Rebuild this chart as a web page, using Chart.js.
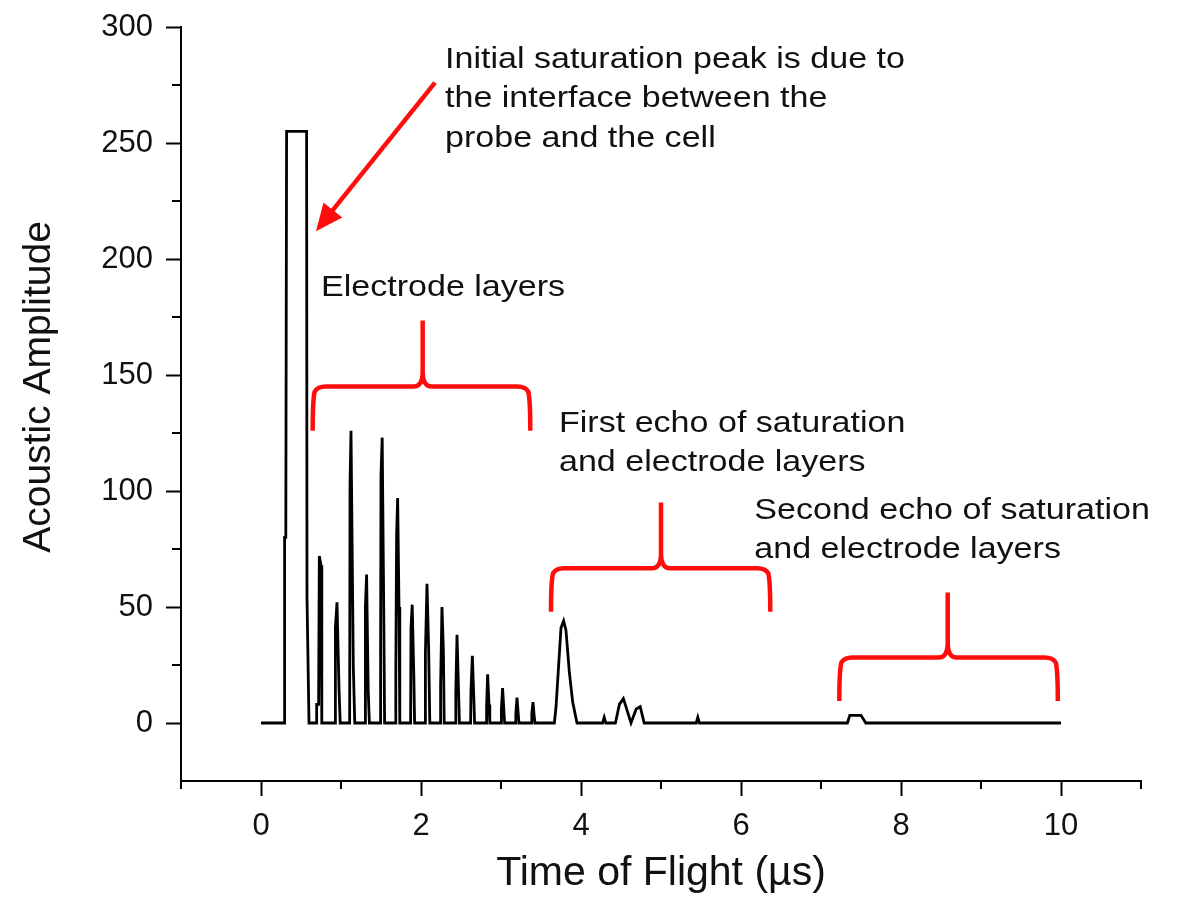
<!DOCTYPE html>
<html>
<head>
<meta charset="utf-8">
<title>Time of Flight</title>
<script src="https://cdn.jsdelivr.net/npm/chart.js@4.4.0/dist/chart.umd.min.js"></script>
<style>
  body { margin: 0; background: #fff; }
</style>
</head>
<body>
<canvas id="tof-chart" width="1177" height="898"></canvas>
<script>
// acoustic signal (time in µs, amplitude)
const tof = [
  0, 0.29, 0.295, 0.31, 0.32, 0.57, 0.575, 0.60,
  0.69, 0.696, 0.72, 0.729, 0.75, 0.76,
  0.925, 0.93, 0.95, 0.975, 0.99,
  1.108, 1.113, 1.125, 1.154, 1.172,
  1.30, 1.305, 1.32, 1.34, 1.355,
  1.49, 1.495, 1.50, 1.515, 1.535, 1.545,
  1.68, 1.685, 1.695, 1.708, 1.725, 1.735,
  1.87, 1.875, 1.89, 1.91, 1.92,
  2.05, 2.055, 2.075, 2.095, 2.11,
  2.24, 2.245, 2.262, 2.28, 2.29,
  2.43, 2.435, 2.45, 2.47, 2.48,
  2.62, 2.625, 2.642, 2.66, 2.67,
  2.815, 2.82, 2.833, 2.85, 2.86,
  3.0, 3.005, 3.02, 3.035, 3.045,
  3.18, 3.185, 3.2, 3.215, 3.225,
  3.38, 3.385, 3.40, 3.415, 3.425,
  3.667, 3.688, 3.717, 3.75, 3.783, 3.812, 3.854, 3.896, 3.95,
  4.27, 4.29, 4.31,
  4.43, 4.48, 4.53, 4.58, 4.625, 4.69, 4.74, 4.79,
  5.44, 5.46, 5.48,
  7.33, 7.36, 7.50, 7.56,
  10
];
const amplitude = [
  0, 0, 80, 80, 255, 255, 54, 0,
  0, 8, 8, 72, 68, 0,
  0, 41, 52, 15, 0,
  0, 103, 126, 24, 0,
  0, 50, 64, 14, 0,
  0, 31, 107, 123, 46, 0,
  0, 20, 81, 97, 50, 0,
  0, 41, 51, 21, 0,
  0, 30, 60, 33, 0,
  0, 16, 50, 31, 0,
  0, 13, 38, 13, 0,
  0, 14, 29, 11, 0,
  0, 7, 21, 8, 0,
  0, 6, 15, 6, 0,
  0, 4, 11, 4, 0,
  0, 4, 9, 3, 0,
  0, 7, 23, 41, 44, 40, 22, 9, 0,
  0, 2.4, 0,
  0, 8, 10.5, 5, 0, 6, 7, 0,
  0, 2.4, 0,
  0, 3.3, 3.3, 0,
  0
];

const xTickValues = [0, 2, 4, 6, 8, 10];
const xMinorTicks = [-1, 1, 3, 5, 7, 9, 11];
const yTickValues = [0, 50, 100, 150, 200, 250, 300];
const yMinorTicks = [25, 75, 125, 175, 225, 275];

const yTitle = 'Acoustic Amplitude';
const xTitle = 'Time of Flight (µs)';

// red annotations, in data units
const arrowFrom = [2.175, 276];
const arrowTo = [0.6875, 212];
const braces = [
  { x0: 0.646, xm: 2.021, x1: 3.366, yEnd: 126, yBar: 145, yTip: 173.5 },
  { x0: 3.625, xm: 5.0, x1: 6.366, yEnd: 48, yBar: 66.7, yTip: 95 },
  { x0: 7.229, xm: 8.584, x1: 9.96, yEnd: 9.5, yBar: 28.2, yTip: 56.2 }
];
const notes = [
  { x: 2.3, y: 282.5, lines: ["Initial saturation peak is due to", "the interface between the", "probe and the cell"] },
  { x: 0.75, y: 184, lines: ["Electrode layers"] },
  { x: 3.725, y: 125.6, lines: ["First echo of saturation", "and electrode layers"] },
  { x: 6.166, y: 88, lines: ["Second echo of saturation", "and electrode layers"] }
];

const fontFamily = "'Liberation Sans', Arial, sans-serif";
const red = '#ff0d0d';

const annotations = {
  id: 'annotations',
  afterDraw(chart) {
    const ctx = chart.ctx;
    const xs = chart.scales.x;
    const ys = chart.scales.y;

    // minor ticks
    ctx.save();
    ctx.strokeStyle = '#000';
    ctx.lineWidth = 2;
    ctx.beginPath();
    xMinorTicks.forEach(v => {
      const px = xs.getPixelForValue(v);
      ctx.moveTo(px, xs.top);
      ctx.lineTo(px, xs.top + 8);
    });
    yMinorTicks.forEach(v => {
      const py = ys.getPixelForValue(v);
      ctx.moveTo(ys.right - 9, py);
      ctx.lineTo(ys.right, py);
    });
    ctx.stroke();
    ctx.restore();

    // y axis title, sitting a little above the middle as in the original
    ctx.save();
    ctx.fillStyle = '#111';
    ctx.font = '39px ' + fontFamily;
    ctx.textAlign = 'center';
    ctx.textBaseline = 'middle';
    ctx.translate(39, 387);
    ctx.rotate(-Math.PI / 2);
    ctx.fillText(yTitle, 0, 0);
    ctx.restore();

    // braces
    ctx.save();
    ctx.strokeStyle = red;
    ctx.lineWidth = 4.5;
    ctx.lineJoin = 'round';
    braces.forEach(b => {
      const x0 = xs.getPixelForValue(b.x0);
      const xm = xs.getPixelForValue(b.xm);
      const x1 = xs.getPixelForValue(b.x1);
      const yEnd = ys.getPixelForValue(b.yEnd);
      const yBar = ys.getPixelForValue(b.yBar);
      const yTip = ys.getPixelForValue(b.yTip);
      const r = 13, r2 = 9;
      ctx.beginPath();
      ctx.moveTo(x0, yEnd);
      ctx.quadraticCurveTo(x0, yBar + r, x0 + 2, yBar + 5);
      ctx.quadraticCurveTo(x0 + 5, yBar, x0 + r, yBar);
      ctx.lineTo(xm - r2, yBar);
      ctx.quadraticCurveTo(xm, yBar, xm, yBar - r2 - 6);
      ctx.lineTo(xm, yTip);
      ctx.moveTo(xm, yBar - r2 - 6);
      ctx.quadraticCurveTo(xm, yBar, xm + r2, yBar);
      ctx.lineTo(x1 - r, yBar);
      ctx.quadraticCurveTo(x1 - 5, yBar, x1 - 2, yBar + 5);
      ctx.quadraticCurveTo(x1, yBar + r, x1, yEnd);
      ctx.stroke();
    });

    // arrow
    const ax = xs.getPixelForValue(arrowFrom[0]);
    const ay = ys.getPixelForValue(arrowFrom[1]);
    const tx = xs.getPixelForValue(arrowTo[0]);
    const ty = ys.getPixelForValue(arrowTo[1]);
    const len = Math.hypot(tx - ax, ty - ay);
    const ux = (tx - ax) / len, uy = (ty - ay) / len;
    const headLen = 27, headHalf = 12;
    const bx = tx - ux * headLen, by = ty - uy * headLen;
    ctx.beginPath();
    ctx.moveTo(ax, ay);
    ctx.lineTo(bx + ux * 4, by + uy * 4);
    ctx.stroke();
    ctx.fillStyle = red;
    ctx.beginPath();
    ctx.moveTo(tx, ty);
    ctx.lineTo(bx - uy * headHalf, by + ux * headHalf);
    ctx.lineTo(bx + uy * headHalf, by - ux * headHalf);
    ctx.closePath();
    ctx.fill();
    ctx.restore();

    // notes
    ctx.save();
    ctx.fillStyle = '#111';
    ctx.font = '30px ' + fontFamily;
    ctx.textBaseline = 'alphabetic';
    notes.forEach(n => {
      const px = xs.getPixelForValue(n.x);
      const py = ys.getPixelForValue(n.y);
      n.lines.forEach((line, i) => {
        ctx.save();
        ctx.translate(px, py + i * 39.5);
        ctx.scale(1.135, 1);
        ctx.fillText(line, 0, 0);
        ctx.restore();
      });
    });
    ctx.restore();
  }
};

const points = tof.map((t, i) => ({ x: t, y: amplitude[i] }));

new Chart(document.getElementById('tof-chart'), {
  type: 'line',
  data: {
    datasets: [{
      data: points,
      borderColor: '#000',
      borderWidth: 2.8,
      pointRadius: 0,
      tension: 0,
      fill: false
    }]
  },
  options: {
    responsive: false,
    animation: false,
    devicePixelRatio: 1,
    layout: { padding: { left: 0, right: 36, top: 27, bottom: 0 } },
    plugins: {
      legend: { display: false },
      tooltip: { enabled: false }
    },
    scales: {
      x: {
        type: 'linear',
        min: -1,
        max: 11,
        afterBuildTicks: s => { s.ticks = xTickValues.map(v => ({ value: v })); },
        afterFit: s => { s.height = 117; s.paddingLeft = 0; s.paddingRight = 0; },
        grid: { display: true, drawOnChartArea: false, drawTicks: true, tickLength: 15, tickWidth: 2, tickColor: '#000' },
        border: { display: true, color: '#000', width: 2 },
        ticks: { color: '#111', font: { family: fontFamily, size: 31 }, padding: 12, maxRotation: 0, autoSkip: false },
        title: { display: true, text: xTitle, color: '#111', font: { family: fontFamily, size: 41, lineHeight: 1.2 }, padding: { top: 0, bottom: 0 } }
      },
      y: {
        min: -25,
        max: 300,
        afterBuildTicks: s => { s.ticks = yTickValues.map(v => ({ value: v })); },
        afterFit: s => { s.width = 181; s.paddingTop = 0; s.paddingBottom = 0; },
        grid: { display: true, drawOnChartArea: false, drawTicks: true, tickLength: 15, tickWidth: 2, tickColor: '#000' },
        border: { display: true, color: '#000', width: 2 },
        ticks: { color: '#111', font: { family: fontFamily, size: 31 }, padding: 13 },
        title: { display: false, text: yTitle }
      }
    }
  },
  plugins: [annotations]
});
</script>
</body>
</html>
